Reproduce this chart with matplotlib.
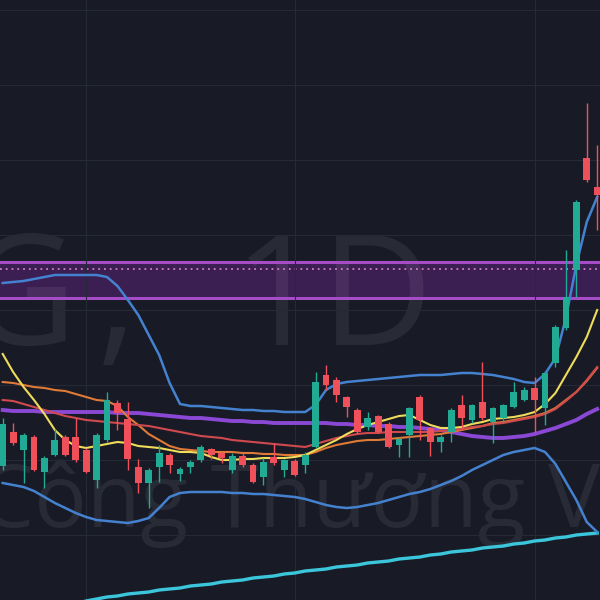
import matplotlib
matplotlib.use('Agg')
import matplotlib.pyplot as plt
import numpy as np

# daily candles, CTG 1D (price units)
opens = [13.4, 16.8, 15.0, 16.3, 12.8, 14.5, 16.3, 16.3, 15.0, 12.0,
         16.0, 19.7, 18.1, 13.3, 11.7, 13.3, 14.5, 12.6, 13.3, 14.0,
         15.1, 14.7, 13.0, 14.4, 13.5, 12.3, 14.3, 13.0, 13.9, 13.5,
         15.3, 22.5, 22.0, 20.3, 19.0, 17.3, 18.4, 17.6, 15.5, 16.5,
         20.3, 17.2, 15.8, 16.8, 19.5, 18.0, 19.8, 17.8, 18.2, 19.3,
         20.0, 21.2, 19.2, 23.7, 27.2, 33.0, 44.2, 41.3]
highs = [18.2, 17.7, 16.7, 16.5, 14.4, 17.1, 16.5, 18.2, 15.2, 16.7,
         20.8, 20.0, 19.8, 14.1, 13.2, 15.5, 14.7, 13.3, 14.0, 15.5,
         15.2, 14.8, 14.7, 14.7, 13.7, 14.2, 15.7, 14.1, 14.1, 14.8,
         22.8, 23.5, 22.3, 20.4, 19.2, 18.8, 18.5, 17.8, 16.3, 19.3,
         20.5, 17.3, 16.5, 19.2, 20.5, 19.6, 23.8, 19.3, 19.6, 21.8,
         21.3, 22.3, 22.9, 27.5, 35.0, 40.0, 49.7, 45.5]
lows = [13.0, 15.5, 11.7, 12.9, 11.2, 14.4, 14.4, 13.8, 12.7, 11.2,
        15.8, 17.0, 13.0, 10.7, 9.2, 11.8, 12.7, 11.9, 12.7, 13.8,
        14.1, 13.7, 12.7, 13.3, 11.7, 11.5, 13.5, 12.3, 12.4, 12.7,
        15.2, 21.0, 19.8, 18.3, 16.6, 17.0, 16.7, 15.2, 14.3, 14.3,
        16.0, 14.4, 14.8, 15.8, 17.0, 17.7, 18.0, 15.7, 17.8, 19.2,
        19.9, 16.8, 17.5, 23.3, 27.0, 30.3, 41.8, 37.0]
closes = [17.6, 15.7, 16.5, 13.0, 14.2, 16.0, 14.5, 14.0, 12.8, 16.5,
          20.0, 18.7, 14.1, 11.7, 13.0, 14.7, 13.5, 13.1, 13.8, 15.3,
          14.5, 14.2, 14.4, 13.5, 11.8, 13.8, 13.7, 14.0, 12.5, 14.5,
          21.8, 21.5, 20.5, 19.3, 16.8, 18.2, 16.8, 15.3, 16.1, 19.2,
          18.0, 15.8, 16.3, 19.0, 18.2, 19.5, 18.2, 19.2, 19.5, 20.8,
          21.0, 20.0, 22.7, 27.3, 30.3, 39.8, 42.0, 40.5]

# indicators, one value per bar
ma_fast = [24.6, 22.8, 21.3, 20.0, 18.6, 17.0, 16.0, 15.4, 15.2, 15.4,
           15.6, 15.8, 15.7, 15.4, 15.3, 15.2, 15.0, 14.8, 14.8, 14.7,
           14.3, 14.0, 14.0, 14.1, 14.1, 14.2, 14.2, 14.2, 14.3, 14.5,
           15.0, 15.5, 16.0, 16.6, 17.1, 17.5, 17.8, 18.1, 18.4, 18.5,
           18.0, 17.5, 17.2, 17.2, 17.3, 17.6, 17.8, 18.1, 18.2, 18.3,
           18.5, 18.8, 19.6, 20.7, 22.5, 24.3, 26.3, 29.0]
ma_orange = [21.8, 21.7, 21.5, 21.3, 21.2, 21.0, 20.9, 20.6, 20.3, 20.0,
             19.9, 19.4, 18.3, 17.5, 16.6, 16.0, 15.4, 15.1, 15.0, 14.9,
             14.8, 14.8, 14.8, 14.7, 14.7, 14.6, 14.6, 14.5, 14.5, 14.5,
             14.8, 15.2, 15.5, 15.7, 15.9, 16.0, 16.0, 16.1, 16.2, 16.3,
             16.4, 16.5, 16.6, 16.8, 17.0, 17.2, 17.4, 17.7, 17.8, 18.0,
             18.2, 18.4, 18.7, 19.2, 20.0, 20.8, 21.9, 23.2]
ma_red = [20.0, 19.9, 19.6, 19.3, 19.0, 18.7, 18.4, 18.2, 18.0, 17.9,
          17.8, 17.7, 17.6, 17.5, 17.4, 17.2, 17.0, 16.8, 16.6, 16.4,
          16.3, 16.2, 16.0, 15.9, 15.8, 15.7, 15.6, 15.5, 15.4, 15.3,
          15.6, 15.9, 16.2, 16.4, 16.6, 16.7, 16.7, 16.8, 16.8, 16.8,
          16.8, 16.8, 16.9, 17.0, 17.1, 17.3, 17.4, 17.6, 17.7, 17.9,
          18.1, 18.3, 18.6, 19.1, 19.9, 20.8, 22.0, 23.3]
ma_purple = [19.0, 18.9, 18.9, 18.9, 18.8, 18.8, 18.8, 18.8, 18.8, 18.8,
             18.8, 18.7, 18.7, 18.7, 18.6, 18.5, 18.4, 18.3, 18.2, 18.2,
             18.1, 18.0, 17.9, 17.9, 17.8, 17.8, 17.7, 17.7, 17.7, 17.7,
             17.7, 17.7, 17.6, 17.6, 17.5, 17.5, 17.4, 17.4, 17.3, 17.3,
             17.2, 17.1, 17.0, 16.8, 16.6, 16.4, 16.3, 16.2, 16.2, 16.3,
             16.4, 16.6, 16.9, 17.2, 17.6, 18.0, 18.6, 19.1]
bb_upper = [31.7, 31.8, 31.9, 32.1, 32.3, 32.5, 32.5, 32.5, 32.5, 32.5,
            32.3, 31.4, 30.0, 28.5, 26.5, 24.5, 21.7, 19.6, 19.4, 19.4,
            19.3, 19.2, 19.1, 19.0, 19.0, 18.9, 18.9, 18.8, 18.8, 18.8,
            19.5, 21.0, 21.6, 21.8, 21.9, 22.0, 22.1, 22.2, 22.3, 22.4,
            22.5, 22.5, 22.5, 22.6, 22.7, 22.7, 22.6, 22.5, 22.3, 22.1,
            21.8, 21.7, 22.6, 24.2, 28.2, 33.5, 37.8, 40.3]
bb_lower = [11.7, 11.5, 11.3, 10.9, 10.3, 9.7, 9.2, 8.7, 8.3, 8.0,
            7.9, 7.8, 7.7, 7.9, 8.2, 9.2, 10.3, 10.7, 10.8, 10.8,
            10.8, 10.8, 10.7, 10.7, 10.6, 10.6, 10.5, 10.4, 10.3, 10.1,
            9.8, 9.5, 9.3, 9.2, 9.3, 9.5, 9.7, 10.0, 10.3, 10.6,
            10.8, 11.1, 11.5, 11.9, 12.4, 13.0, 13.5, 14.0, 14.5, 14.8,
            15.0, 15.2, 14.8, 13.6, 11.8, 10.0, 7.8, 6.8]
ma_long = [np.nan] * 8 + [
    -0.1, 0.1, 0.3, 0.4, 0.6, 0.7, 0.8, 1.0, 1.1, 1.2,
    1.4, 1.5, 1.6, 1.8, 1.9, 2.0, 2.2, 2.3, 2.4, 2.6,
    2.7, 2.9, 3.0, 3.1, 3.3, 3.4, 3.5, 3.7, 3.8, 3.9,
    4.1, 4.2, 4.3, 4.5, 4.6, 4.8, 4.9, 5.0, 5.2, 5.3,
    5.4, 5.6, 5.7, 5.9, 6.0, 6.2, 6.3, 6.5, 6.6, 6.7]

# resistance zone
zone_top = 33.8
zone_bottom = 30.2
zone_mid = 33.1

price_grid = [6.5, 14, 21.5, 29, 36.5, 44, 51.5, 59]
month_starts = [8, 28, 51]

bg = '#181b26'
up_col = '#22ab94'
down_col = '#f0505a'
wm_font = ['Open Sans', 'DejaVu Sans']

fig = plt.figure(figsize=(6, 6), dpi=100, facecolor=bg)
ax = fig.add_axes([0, 0, 1, 1])
ax.set_facecolor(bg)

x = np.arange(len(opens))
o = np.array(opens)
c = np.array(closes)
colors = [up_col if cc >= oo else down_col for oo, cc in zip(o, c)]

ax.set_xlim(-0.26, 57.27)
ax.set_ylim(0, 60)

# grid
ax.set_yticks(price_grid)
ax.set_xticks(month_starts)
ax.grid(True, color='#262a36', linewidth=0.8, zorder=0)
ax.tick_params(length=0, labelleft=False, labelbottom=False)
for s in ax.spines.values():
    s.set_visible(False)

# zone
ax.axhspan(zone_bottom, zone_top, color='#3b1e52', zorder=0.5, lw=0)
ax.axhline(zone_top, color='#a64cc6', lw=2.2, zorder=1.5)
ax.axhline(zone_bottom, color='#a64cc6', lw=2.2, zorder=1.5)
ax.axhline(zone_mid, color='#cf7fb8', lw=1.3, ls=(0, (1, 2.2)), zorder=1.5)

# watermark (symbol, interval, company name)
wm = dict(transform=ax.transAxes, va='baseline', family=wm_font,
          color='white', alpha=0.07, zorder=1)
ax.text(0.13, 0.425, 'CTG', ha='right', fontsize=111, **wm)
ax.text(0.228, 0.425, ',', ha='right', fontsize=111, **wm)
ax.text(0.722, 0.425, '1D', ha='right', fontsize=111, **wm)
ax.text(-0.035, 0.122, 'Công Thương Việt Nam', ha='left', fontsize=63, **wm)

# indicator lines
ax.plot(x, ma_long, color='#3cc6dc', lw=2.4, zorder=2)
ax.plot(x, bb_upper, color='#4482d0', lw=1.8, zorder=2)
ax.plot(x, bb_lower, color='#4482d0', lw=1.8, zorder=2)
ax.plot(x, ma_purple, color='#8a48d4', lw=2.8, zorder=2)
ax.plot(x, ma_orange, color='#e07a36', lw=1.5, zorder=2)
ax.plot(x, ma_red, color='#d0494e', lw=1.5, zorder=2)
ax.plot(x, ma_fast, color='#efdc5a', lw=1.5, zorder=2)

# candles
ax.vlines(x, lows, highs, colors=colors, lw=1.0, zorder=3)
body_low = np.minimum(o, c)
body_h = np.maximum(np.abs(c - o), 0.15)
ax.bar(x, body_h, bottom=body_low, width=0.65, color=colors, zorder=3, linewidth=0)

fig.savefig('out.png', dpi=100, facecolor=bg)
